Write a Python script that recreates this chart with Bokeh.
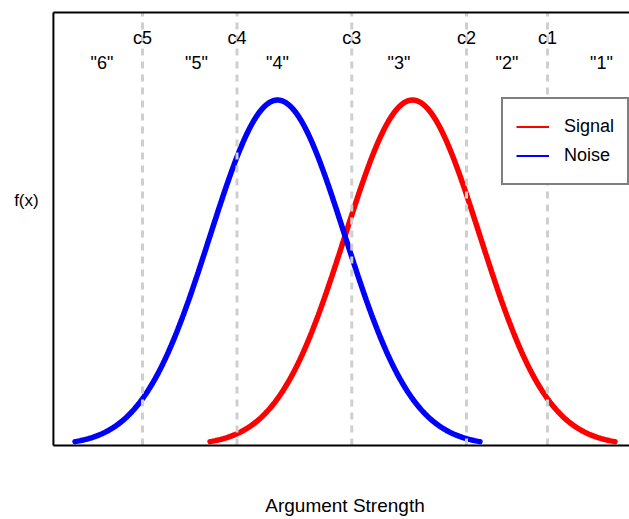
import numpy as np
from bokeh.plotting import figure
from bokeh.models import Range1d, Legend, LegendItem
from bokeh.core.properties import value
from bokeh.embed import file_html
from bokeh.resources import INLINE

# Two equal-variance normal distributions (signal detection model)
series_names = ["Signal", "Noise"]
series_means = [2.0, 0.0]
series_sd = [1.0, 1.0]
series_colors = ["red", "blue"]

# Decision criteria and the rating responses they separate
criteria_names = ["c5", "c4", "c3", "c2", "c1"]
criteria_x = [-2.0, -0.6, 1.1, 2.8, 4.0]

response_labels = ['"6"', '"5"', '"4"', '"3"', '"2"', '"1"']
response_x = [-2.6, -1.2, 0.0, 1.8, 3.4, 4.8]

FONT = "Liberation Sans"

# plotting box in data units (the canvas extends a little beyond it)
BOX_LEFT, BOX_RIGHT = -3.32, 5.3
BOX_BOTTOM, BOX_TOP = 0.0, 0.5

p = figure(width=629, height=519,
           x_range=Range1d(-4.104, 5.215), y_range=Range1d(-0.0855, 0.5139),
           output_backend="svg", toolbar_location=None,
           x_axis_location=None, y_axis_location=None,
           min_border_left=0, min_border_right=0,
           min_border_top=0, min_border_bottom=0)
p.grid.visible = False
p.outline_line_color = None
p.background_fill_color = "white"
p.border_fill_color = "white"

# density curves over mean +/- 3 sd
for mu, sd, col in zip(series_means, series_sd, series_colors):
    xs = np.linspace(mu - 3 * sd, mu + 3 * sd, 300)
    ys = np.exp(-0.5 * ((xs - mu) / sd) ** 2) / (sd * np.sqrt(2 * np.pi))
    p.line(xs, ys, line_color=col, line_width=5.5, line_cap="round")

# criterion lines
n_c = len(criteria_x)
p.segment(x0=criteria_x, y0=[BOX_BOTTOM] * n_c, x1=criteria_x, y1=[BOX_TOP] * n_c,
          line_color="#cfcfcf", line_width=3, line_dash="7 6")

# box edges: left, top and bottom
p.segment(x0=[BOX_LEFT, BOX_LEFT, BOX_LEFT], y0=[BOX_BOTTOM, BOX_TOP, BOX_BOTTOM],
          x1=[BOX_LEFT, BOX_RIGHT, BOX_RIGHT], y1=[BOX_TOP, BOX_TOP, BOX_BOTTOM],
          line_color="black", line_width=2)

p.text(x=criteria_x, y=[0.4706] * n_c, text=criteria_names,
       text_align="center", text_baseline="middle",
       text_font=value(FONT), text_font_size="18px", text_color="black")
p.text(x=response_x, y=[0.4417] * len(response_x), text=response_labels,
       text_align="center", text_baseline="middle",
       text_font=value(FONT), text_font_size="18px", text_color="black")

# axis titles
p.text(x=[-3.72], y=[0.283], text=["f(x)"], text_align="center", text_baseline="middle",
       text_font=value(FONT), text_font_size="17px", text_color="black")
p.text(x=[1.0], y=[-0.069], text=["Argument Strength"], text_align="center",
       text_baseline="middle", text_font=value(FONT), text_font_size="19px",
       text_color="black")

# thin legend samples (no visible data)
leg_renderers = [p.line(x=[np.nan], y=[np.nan], line_color=c, line_width=2) for c in series_colors]
legend = Legend(items=[LegendItem(label=n, renderers=[r]) for n, r in zip(series_names, leg_renderers)],
                location=(501, 334), margin=0, padding=13, spacing=0,
                label_height=29, glyph_height=29, glyph_width=33, label_standoff=15,
                label_text_font=FONT, label_text_font_size="18px", label_text_color="black",
                border_line_color="black", border_line_width=2,
                background_fill_color="white", background_fill_alpha=1.0)
p.add_layout(legend)

open("out.html", "w").write(file_html(p, INLINE))
